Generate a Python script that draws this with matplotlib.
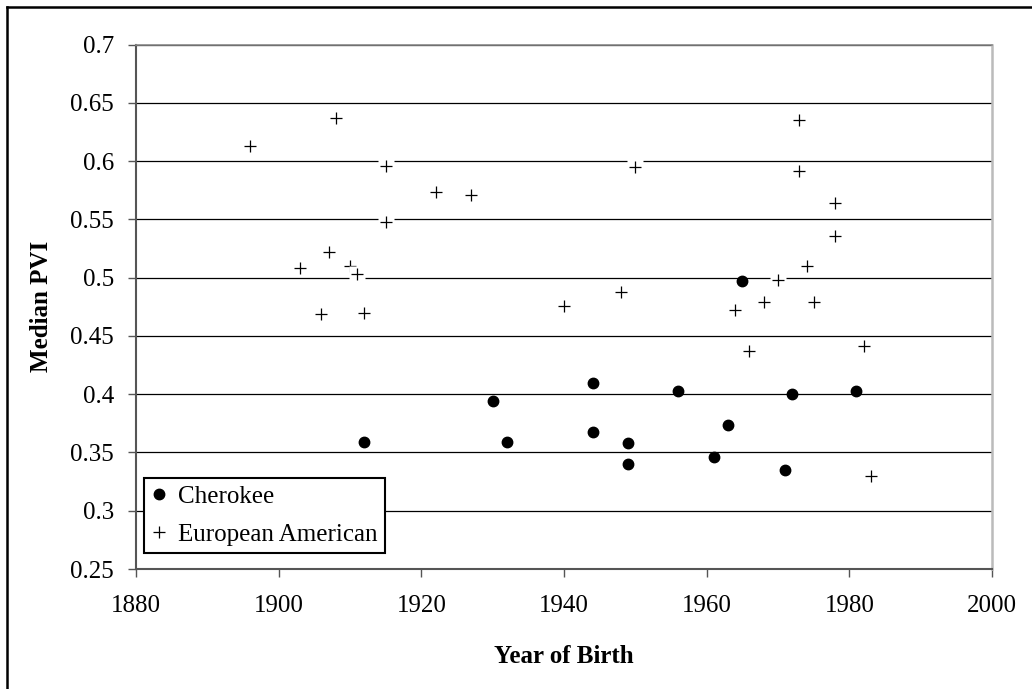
import matplotlib
matplotlib.use("Agg")
import matplotlib.pyplot as plt
from matplotlib.lines import Line2D

plt.rcParams['font.family'] = ['Liberation Serif', 'DejaVu Serif']

# Data
cherokee_year = [1912, 1930, 1932, 1944, 1944, 1949, 1949, 1956, 1961, 1963, 1965, 1971, 1972, 1981]
cherokee_pvi = [0.359, 0.394, 0.359, 0.410, 0.368, 0.358, 0.340, 0.403, 0.346, 0.374, 0.497, 0.335, 0.400, 0.403]

euro_year = [1896, 1903, 1906, 1907, 1908, 1910, 1911, 1912, 1915, 1915, 1922, 1927, 1940, 1948,
             1950, 1964, 1966, 1968, 1970, 1973, 1973, 1974, 1975, 1978, 1978, 1982, 1983]
euro_pvi = [0.613, 0.508, 0.469, 0.522, 0.637, 0.510, 0.503, 0.470, 0.596, 0.548, 0.574, 0.571, 0.476, 0.488,
            0.595, 0.472, 0.437, 0.479, 0.498, 0.635, 0.592, 0.510, 0.479, 0.564, 0.536, 0.441, 0.330]

x_ticks = [1880, 1900, 1920, 1940, 1960, 1980, 2000]
y_ticks = [0.25, 0.3, 0.35, 0.4, 0.45, 0.5, 0.55, 0.6, 0.65, 0.7]
y_tick_labels = ['0.25', '0.3', '0.35', '0.4', '0.45', '0.5', '0.55', '0.6', '0.65', '0.7']

fig = plt.figure(figsize=(10.32, 6.89), dpi=100)
ax = fig.add_axes([136/1032, 1 - 569/689, 856/1032, (569 - 44.7)/689])

ax.set_xlim(1880, 2000)
ax.set_ylim(0.25, 0.7)
ax.set_xticks(x_ticks)
ax.set_yticks(y_ticks)
ax.set_yticklabels(y_tick_labels)
ax.tick_params(axis='both', direction='out', length=6, width=1.0, color='#555555',
               labelsize=18)
ax.tick_params(axis='x', pad=13)
ax.tick_params(axis='y', pad=10)

# gridlines
ax.yaxis.grid(True, color='black', linewidth=0.9)
ax.set_axisbelow(True)

for side in ['left', 'bottom']:
    ax.spines[side].set_color('#555555')
    ax.spines[side].set_linewidth(1.5)
ax.spines['top'].set_color('#888888')
ax.spines['top'].set_linewidth(1.2)
ax.spines['right'].set_color('#bbbbbb')
ax.spines['right'].set_linewidth(1.8)

# Cherokee dots
ax.plot(cherokee_year, cherokee_pvi, linestyle='none', marker='o', markersize=7.5,
        color='black', zorder=3, label='Cherokee')

# European American pluses with white background (as in the original)
z = 4
for xv, yv in zip(euro_year, euro_pvi):
    ax.plot([xv], [yv], linestyle='none', marker='s', markersize=11, markerfacecolor='white',
            markeredgecolor='none', zorder=z)
    ax.plot([xv], [yv], linestyle='none', marker='+', markersize=8.5, markeredgewidth=0.9,
            color='black', zorder=z + 0.5)
    z += 1

handles = [
    Line2D([], [], linestyle='none', marker='o', markersize=7.5, color='black'),
    Line2D([], [], linestyle='none', marker='+', markersize=8.5, markeredgewidth=0.9, color='black'),
]
leg = ax.legend(handles, ['Cherokee', 'European American'], loc='lower left',
                bbox_to_anchor=(0.0097, 0.030), borderaxespad=0, fontsize=18,
                frameon=True, fancybox=False, shadow=False, framealpha=1,
                handlelength=0.6, handletextpad=0.45, labelspacing=0.62, borderpad=0.3)
leg.get_frame().set_edgecolor('black')
leg.get_frame().set_linewidth(1.5)
leg.set_zorder(100)

ax.set_xlabel('Year of Birth', fontsize=18, fontweight='bold', labelpad=20)
ax.set_ylabel('Median PVI', fontsize=18, fontweight='bold', labelpad=12)

# outer chart border (cropped: only top and left visible)
fig.add_artist(Line2D([7/1032, 1.0], [1 - 7/689, 1 - 7/689], transform=fig.transFigure,
                      color='black', linewidth=1.8))
fig.add_artist(Line2D([7/1032, 7/1032], [0.0, 1 - 7/689], transform=fig.transFigure,
                      color='black', linewidth=1.8))

fig.savefig('out.png', dpi=100, facecolor='white')
